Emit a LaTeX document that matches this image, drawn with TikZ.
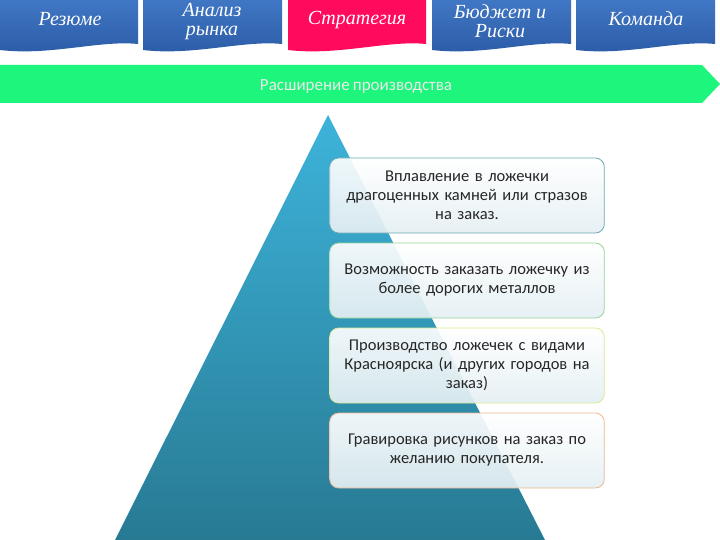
\documentclass[tikz,border=0pt]{standalone}
\usepackage{fontspec}
\setmainfont{Carlito}[WordSpace=0.8]
\newfontfamily\tabfont{Liberation Serif}
\usepackage{xcolor}
\usetikzlibrary{positioning, calc}

\definecolor{tabTop}{HTML}{4077C4}
\definecolor{tabBot}{HTML}{2B5BA6}
\definecolor{tabRed}{HTML}{FF0A5C}
\definecolor{bandGreen}{HTML}{1EF57C}
\definecolor{triTop}{HTML}{3DB3DA}
\definecolor{triBot}{HTML}{287A93}
\definecolor{boxBot}{HTML}{E4EFF3}
\definecolor{edgeA}{HTML}{6BAAB0}
\definecolor{edgeB}{HTML}{96D49A}
\definecolor{edgeC}{HTML}{DCE893}
\definecolor{edgeD}{HTML}{EDB78C}

\begin{document}
\begin{tikzpicture}[x=1pt, y=-1pt,
		tablabel/.style={text=white, font=\tabfont\itshape\fontsize{20}{19}\selectfont, align=center},
		itembox/.style={rounded corners=9pt, line width=0.8pt, top color=white, bottom color=boxBot,
			fill opacity=0.92, text opacity=1, minimum width=274pt, minimum height=75pt,
			text width=268pt, align=center, text=black!85,
			font=\fontsize{16.5}{19}\selectfont}]
	\useasboundingbox (0,0) rectangle (720,540);

	% Tabs on top
	\shade[top color=tabTop, bottom color=tabBot] (0,0) -- (138,0) -- (138,44) .. controls (100,40) and (50,56) .. (0,50) -- cycle;
	\shade[top color=tabTop, bottom color=tabBot] (143,0) -- (282,0) -- (282,44) .. controls (244,40) and (193,56) .. (143,50) -- cycle;
	\fill[tabRed] (288,0) -- (426,0) -- (426,44) .. controls (388,40) and (338,56) .. (288,50) -- cycle;
	\shade[top color=tabTop, bottom color=tabBot] (432,0) -- (571,0) -- (571,44) .. controls (533,40) and (482,56) .. (432,50) -- cycle;
	\shade[top color=tabTop, bottom color=tabBot] (576,0) -- (715,0) -- (715,44) .. controls (677,40) and (626,56) .. (576,50) -- cycle;

	\node[tablabel] (rezume) at (70,19) {Резюме};
	\node[tablabel] (analiz) at (212,22) {Анализ\\рынка};
	\node[tablabel] (strategia) at (357,20) {Стратегия};
	\node[tablabel] (budget) at (500,21) {Бюджет и\\Риски};
	\node[tablabel] (komanda) at (646,19) {Команда};

	% Green band
	\fill[bandGreen] (0,65) -- (702,65) -- (720,84) -- (702,103) -- (0,103) -- cycle;
	\node[text=black!8, font=\fontsize{17}{18}\selectfont] (band) at (356,86) {Расширение производства};

	% Pyramid
	\shade[top color=triTop, bottom color=triBot] (328,115) -- (545,540) -- (115,540) -- cycle;

	% Boxes
	\node[itembox, draw=edgeA] (item-1) at (467,195.5) {Вплавление в ложечки\\драгоценных камней или стразов\\на заказ.};
	\node[itembox, draw=edgeB] (item-2) at (467,280.5) {Возможность заказать ложечку из\\более дорогих металлов};
	\node[itembox, draw=edgeC] (item-3) at (467,365.5) {Производство ложечек с видами\\Красноярска (и других городов на\\заказ)};
	\node[itembox, draw=edgeD] (item-4) at (467,450.5) {Гравировка рисунков на заказ по\\желанию покупателя.};
\end{tikzpicture}
\end{document}
